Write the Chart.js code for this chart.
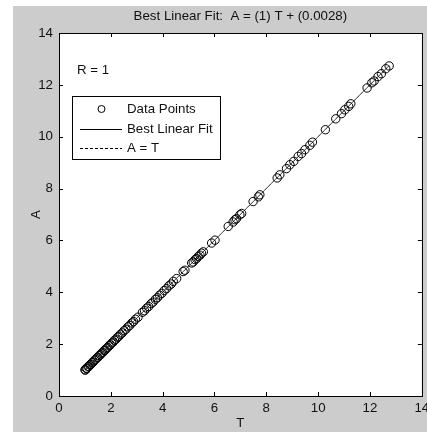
<!DOCTYPE html>
<html><head><meta charset="utf-8">
<script src="https://cdn.jsdelivr.net/npm/chart.js@4.4.0/dist/chart.umd.min.js"></script>
<style>html,body{margin:0;padding:0;background:#fff;overflow:hidden}canvas{display:block}</style>
</head><body>
<div style="width:427px;height:432px;position:relative"><canvas id="c" width="427" height="432"></canvas></div>
<script>
const targets = [1.00,1.02,1.05,1.08,1.12,1.15,1.19,1.23,1.28,1.32,1.37,1.41,1.46,1.50,1.55,1.60,1.64,1.69,1.74,1.78,1.83,1.88,1.93,1.98,2.03,2.09,2.14,2.20,2.26,2.31,2.37,2.44,2.51,2.58,2.66,2.73,2.81,2.88,2.95,3.05,3.22,3.30,3.38,3.46,3.55,3.63,3.72,3.80,3.88,3.97,4.06,4.15,4.24,4.33,4.41,4.54,4.79,4.86,5.12,5.18,5.25,5.31,5.37,5.44,5.50,5.57,5.89,6.02,6.53,6.72,6.79,6.85,6.98,7.05,7.49,7.69,7.75,8.42,8.52,8.78,8.91,9.06,9.23,9.36,9.49,9.68,9.78,10.28,10.68,10.90,11.03,11.18,11.26,11.89,12.07,12.16,12.31,12.44,12.61,12.74];
const outputs = [1.01,1.00,1.06,1.07,1.13,1.14,1.20,1.22,1.29,1.31,1.38,1.40,1.47,1.49,1.56,1.59,1.65,1.68,1.75,1.77,1.84,1.87,1.94,1.97,2.04,2.08,2.15,2.19,2.27,2.30,2.38,2.43,2.52,2.57,2.67,2.72,2.82,2.87,2.96,3.04,3.23,3.29,3.39,3.45,3.56,3.62,3.73,3.79,3.89,3.96,4.07,4.14,4.25,4.32,4.42,4.53,4.80,4.85,5.13,5.17,5.26,5.30,5.38,5.43,5.51,5.56,5.90,6.01,6.54,6.71,6.80,6.84,6.99,7.04,7.50,7.68,7.76,8.41,8.53,8.77,8.92,9.05,9.24,9.35,9.50,9.67,9.79,10.27,10.69,10.89,11.04,11.17,11.27,11.88,12.08,12.15,12.32,12.43,12.62,12.73];
const fitSlope = 1;
const fitIntercept = 0.0028;
const axisTicks = [0,2,4,6,8,10,12,14];
const titleText = 'Best Linear Fit:  A = (1) T + (0.0028)';
const rText = 'R = 1';
const xLabel = 'T';
const yLabel = 'A';
const legendLabels = ['Data Points','Best Linear Fit','A = T'];

const FONT = '"Liberation Sans", Arial, sans-serif';
const FS = 13.3;
const tMin = Math.min(...targets), tMax = Math.max(...targets);
const points = targets.map((t,i)=>({x:t,y:outputs[i]}));
const fitData = [{x:tMin,y:fitSlope*tMin+fitIntercept},{x:tMax,y:fitSlope*tMax+fitIntercept}];
const idData = [{x:tMin,y:tMin},{x:tMax,y:tMax}];

const deco = {
  id:'deco',
  beforeDraw(chart){
    const ctx=chart.ctx, a=chart.chartArea;
    ctx.save();
    ctx.fillStyle='#ffffff'; ctx.fillRect(0,0,chart.width,chart.height);
    ctx.fillStyle='#cccccc'; ctx.fillRect(13,6,chart.width-13,chart.height-6);
    ctx.fillStyle='#ffffff'; ctx.fillRect(a.left,a.top,a.right-a.left,a.bottom-a.top);
    ctx.restore();
  },
  afterDraw(chart){
    const ctx=chart.ctx, a=chart.chartArea, xs=chart.scales.x, ys=chart.scales.y;
    ctx.save();
    ctx.strokeStyle='#000'; ctx.lineWidth=1;
    ctx.strokeRect(Math.round(a.left)+0.5,Math.round(a.top)+0.5,Math.round(a.right-a.left),Math.round(a.bottom-a.top));
    const L=4;
    ctx.beginPath();
    axisTicks.forEach(v=>{
      const px=Math.round(xs.getPixelForValue(v))+0.5;
      ctx.moveTo(px,a.bottom); ctx.lineTo(px,a.bottom-L);
      ctx.moveTo(px,a.top); ctx.lineTo(px,a.top+L);
      const py=Math.round(ys.getPixelForValue(v))+0.5;
      ctx.moveTo(a.left,py); ctx.lineTo(a.left+L,py);
      ctx.moveTo(a.right,py); ctx.lineTo(a.right-L,py);
    });
    ctx.stroke();
    // title
    ctx.fillStyle='#111'; ctx.font=FS+'px '+FONT; ctx.textAlign='center'; ctx.textBaseline='middle';
    ctx.fillText(titleText,(a.left+a.right)/2,16);
    // y label
    ctx.save(); ctx.translate(36,(a.top+a.bottom)/2); ctx.rotate(-Math.PI/2);
    ctx.fillText(yLabel,0,0); ctx.restore();
    // R text
    ctx.textAlign='left';
    ctx.fillText(rText,77,70);
    // legend
    const lx=72.5, ly=96.5, tx=127;
    const w=Math.max(...legendLabels.map(s=>ctx.measureText(s).width));
    const bw=Math.round(tx+w+8-lx);
    ctx.fillStyle='#fff';
    ctx.fillRect(lx,ly,bw,63);
    ctx.strokeRect(lx,ly,bw,63);
    const rows=[109,129,148];
    ctx.fillStyle='#111';
    legendLabels.forEach((s,i)=>ctx.fillText(s,tx,rows[i]));
    ctx.beginPath(); ctx.arc(101.5,rows[0],3.5,0,Math.PI*2); ctx.stroke();
    ctx.beginPath(); ctx.moveTo(80,rows[1]+0.5); ctx.lineTo(122,rows[1]+0.5); ctx.stroke();
    ctx.setLineDash([3,2]);
    ctx.beginPath(); ctx.moveTo(80,rows[2]+0.5); ctx.lineTo(122,rows[2]+0.5); ctx.stroke();
    ctx.restore();
  }
};

new Chart(document.getElementById('c'),{
  type:'scatter',
  data:{datasets:[
    {label:legendLabels[0],data:points,showLine:false,pointStyle:'circle',pointRadius:4.2,pointHoverRadius:4.2,borderColor:'#000',backgroundColor:'rgba(0,0,0,0)',borderWidth:1},
    {label:legendLabels[1],type:'line',data:fitData,borderColor:'#555',borderWidth:1,pointRadius:0,fill:false},
    {label:legendLabels[2],type:'line',data:idData,borderColor:'#333',borderWidth:1,borderDash:[3,2],pointRadius:0,fill:false}
  ]},
  options:{
    responsive:false,animation:false,devicePixelRatio:1,
    layout:{padding:{left:13,right:5,top:33,bottom:0}},
    plugins:{legend:{display:false},tooltip:{enabled:false},title:{display:false}},
    scales:{
      x:{type:'linear',min:0,max:14,
        afterBuildTicks:s=>{s.ticks=axisTicks.map(v=>({value:v}));},
        afterFit:s=>{s.height=36;s.paddingLeft=0;s.paddingRight=0;},
        ticks:{color:'#111',font:{family:FONT,size:FS},padding:4,maxRotation:0,autoSkip:false},
        grid:{display:false,drawTicks:false},border:{display:false},
        title:{display:true,text:xLabel,color:'#111',font:{family:FONT,size:FS},padding:{top:0,bottom:1}}
      },
      y:{type:'linear',min:0,max:14,
        afterBuildTicks:s=>{s.ticks=axisTicks.map(v=>({value:v}));},
        afterFit:s=>{s.width=46;s.paddingTop=0;s.paddingBottom=0;},
        ticks:{color:'#111',font:{family:FONT,size:FS},padding:6,autoSkip:false},
        grid:{display:false,drawTicks:false},border:{display:false}
      }
    }
  },
  plugins:[deco]
});
</script>
</body></html>
